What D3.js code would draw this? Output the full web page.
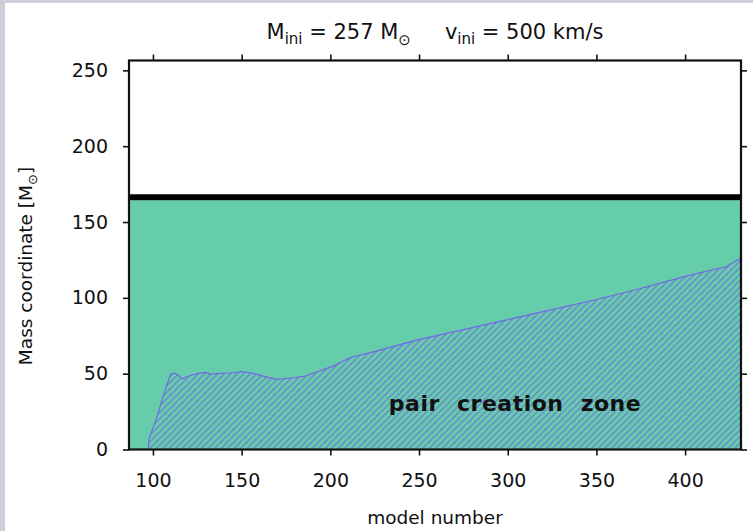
<!DOCTYPE html>
<html>
<head>
<meta charset="utf-8">
<script src="https://cdn.jsdelivr.net/npm/d3@7"></script>
<style>
  html, body { margin: 0; padding: 0; background: #fff; }
  svg { display: block; }
  text { font-family: "DejaVu Sans", sans-serif; fill: #111; }
</style>
</head>
<body>
<svg id="chart" width="753" height="531"></svg>
<script>
// Pair-creation zone boundary (model number, mass coordinate in Msun)
const pairModels = [97.4, 97.7, 102, 106, 110, 112.4, 114.3, 116.5, 119, 125.5, 130.2, 132, 137.8, 145.3, 150, 156.5, 162.2, 169.7, 179.1, 185.7, 194.1, 201.6, 211, 226, 248.6, 271.2, 301.2, 323.8, 350.1, 372.7, 399, 414, 423.4, 425.3, 431];
const pairMass   = [0, 6.7, 20.5, 36, 49.7, 50.4, 49, 46.4, 48, 50.2, 50.8, 49.7, 50.2, 50.6, 51.3, 50.2, 48.4, 46.2, 47.3, 48.4, 51.9, 55, 60.5, 64.9, 72.1, 78.1, 86, 91.9, 98.9, 105.5, 113.8, 118.2, 120.4, 122.2, 126];

// Stellar surface (total mass) along the run
const surfaceModels = [86.5, 431.5];
const surfaceMass   = [166.3, 166.3];

const xTicks = [100, 150, 200, 250, 300, 350, 400];
const yTicks = [0, 50, 100, 150, 200, 250];
const xDomain = [86.5, 431.5];
const yDomain = [0, 256.5];

const svg = d3.select("#chart");
const W = 753, H = 531;

// page frame
svg.append("rect").attr("width", W).attr("height", H).attr("fill", "#cfcfd9");
svg.append("rect").attr("x", 5).attr("y", 3).attr("width", W - 5).attr("height", H - 3).attr("fill", "#fff");

const m = { left: 129, right: 741, top: 60.5, bottom: 449.5 };
const x = d3.scaleLinear().domain(xDomain).range([m.left, m.right]);
const y = d3.scaleLinear().domain(yDomain).range([m.bottom, m.top]);

const defs = svg.append("defs");
const pat = defs.append("pattern")
  .attr("id", "hatch").attr("patternUnits", "userSpaceOnUse")
  .attr("width", 6.5).attr("height", 6.5);
pat.append("rect").attr("width", 6.5).attr("height", 6.5).attr("fill", "#66cdaa");
pat.append("path").attr("d", "M-1,1 l2,-2 M0,6.5 l6.5,-6.5 M5.5,7.5 l2,-2")
  .attr("stroke", "#7466e6").attr("stroke-width", 1);

defs.append("clipPath").attr("id", "plotclip").append("rect")
  .attr("x", m.left).attr("y", m.top).attr("width", m.right - m.left).attr("height", m.bottom - m.top);

const g = svg.append("g").attr("clip-path", "url(#plotclip)");

// stellar interior (green) up to the surface
const surf = surfaceModels.map((d, i) => [d, surfaceMass[i]]);
g.append("path")
  .datum(surf)
  .attr("fill", "#66cdaa")
  .attr("d", d3.area().x(d => x(d[0])).y0(y(0)).y1(d => y(d[1] - 2))(surf));

// pair-creation zone, hatched
const pair = pairModels.map((d, i) => [d, pairMass[i]]);
g.append("path")
  .datum(pair)
  .attr("fill", "url(#hatch)")
  .attr("d", d3.area().x(d => x(d[0])).y0(y(0)).y1(d => y(d[1])));
g.append("path")
  .datum(pair)
  .attr("fill", "none").attr("stroke", "#7466e6").attr("stroke-width", 1.2)
  .attr("d", d3.line().x(d => x(d[0])).y(d => y(d[1])));

// stellar surface line
g.append("path")
  .datum(surf)
  .attr("fill", "none").attr("stroke", "#000").attr("stroke-width", 6)
  .attr("d", d3.line().x(d => x(d[0])).y(d => y(d[1])));

// axes: ticks outward on all four sides
const axisStyle = sel => {
  sel.select(".domain").remove();
  sel.selectAll(".tick line").attr("stroke", "#111").attr("stroke-width", 1.6);
  sel.selectAll(".tick text").attr("font-size", 19).attr("fill", "#111")
     .style("font-family", "'DejaVu Sans', sans-serif");
};
svg.append("g").attr("transform", `translate(0,${m.bottom})`)
  .call(d3.axisBottom(x).tickValues(xTicks).tickSize(6).tickPadding(18).tickFormat(d3.format("d")))
  .call(axisStyle);
svg.append("g").attr("transform", `translate(0,${m.top})`)
  .call(d3.axisTop(x).tickValues(xTicks).tickSize(6).tickFormat(""))
  .call(axisStyle);
svg.append("g").attr("transform", `translate(${m.left},0)`)
  .call(d3.axisLeft(y).tickValues(yTicks).tickSize(6).tickPadding(15).tickFormat(d3.format("d")))
  .call(axisStyle);
svg.append("g").attr("transform", `translate(${m.right},0)`)
  .call(d3.axisRight(y).tickValues(yTicks).tickSize(6).tickFormat(""))
  .call(axisStyle);

// frame
svg.append("rect")
  .attr("x", m.left).attr("y", m.top).attr("width", m.right - m.left).attr("height", m.bottom - m.top)
  .attr("fill", "none").attr("stroke", "#111").attr("stroke-width", 2.2);

// title
const title = svg.append("text").attr("x", 435).attr("y", 39).attr("text-anchor", "middle").attr("font-size", 21);
title.append("tspan").text("M");
title.append("tspan").attr("font-size", 15).attr("dy", 5).text("ini");
title.append("tspan").attr("dy", -5).text(" = 257 M");
title.append("tspan").attr("font-size", 15).attr("dy", 6).text("⊙");
title.append("tspan").attr("dy", -6).attr("dx", 34).text("v");
title.append("tspan").attr("font-size", 15).attr("dy", 5).text("ini");
title.append("tspan").attr("dy", -5).text(" = 500 km/s");

// axis labels
svg.append("text").attr("x", 435).attr("y", 524).attr("text-anchor", "middle").attr("font-size", 18.5).text("model number");
const yl = svg.append("text").attr("transform", "translate(32,266) rotate(-90)").attr("text-anchor", "middle").attr("font-size", 18.5);
yl.append("tspan").text("Mass coordinate [M");
yl.append("tspan").attr("font-size", 13).attr("dy", 5).text("⊙");
yl.append("tspan").attr("dy", -5).text("]");

// zone label
svg.append("text").attr("x", 515).attr("y", 411).attr("text-anchor", "middle")
  .attr("font-size", 22).attr("font-weight", "bold").attr("letter-spacing", 0.5).attr("word-spacing", 9)
  .text("pair creation zone");
</script>
</body>
</html>
